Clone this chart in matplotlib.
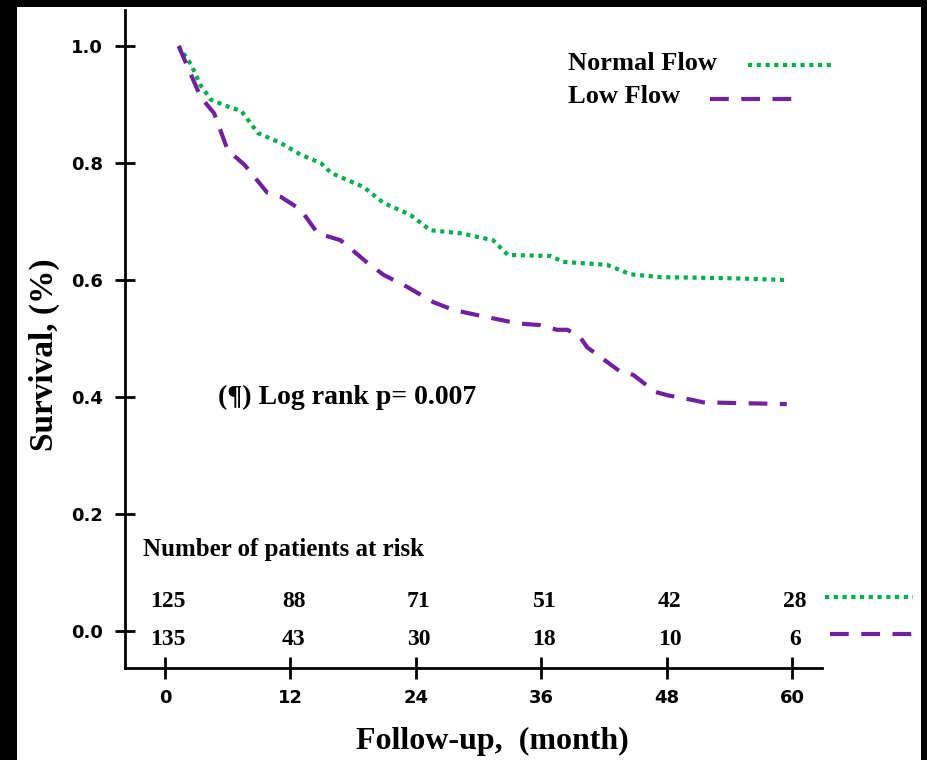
import matplotlib.pyplot as plt
from matplotlib.patches import Rectangle
from matplotlib.lines import Line2D

# survival curves (month, survival)
normal_months = [1.3, 2.5, 3.4, 4.4, 6.1, 7.3, 8.9, 11.1, 13.0, 14.9, 15.9, 19.0,
                 20.9, 23.5, 25.4, 28.3, 31.4, 32.8, 36.9, 38.1, 42.3, 44.5, 47.4,
                 54.4, 59.5]
normal_surv = [1.0, 0.968, 0.933, 0.908, 0.896, 0.889, 0.851, 0.834, 0.814, 0.800,
               0.783, 0.759, 0.732, 0.711, 0.685, 0.680, 0.668, 0.643, 0.641, 0.631,
               0.626, 0.610, 0.605, 0.603, 0.600]

low_months = [1.3, 3.4, 4.7, 5.4, 6.0, 7.6, 9.8, 11.1, 13.0, 14.6, 16.8, 19.4, 20.9,
              23.2, 25.7, 27.6, 29.9, 32.1, 33.7, 35.9, 37.5, 38.5, 39.7, 40.4, 41.7,
              43.6, 44.8, 46.9, 48.1, 50.5, 51.5, 59.5]
low_surv = [1.0, 0.913, 0.885, 0.851, 0.822, 0.797, 0.749, 0.742, 0.720, 0.680, 0.668,
            0.629, 0.609, 0.588, 0.562, 0.549, 0.540, 0.532, 0.526, 0.523, 0.515, 0.515,
            0.503, 0.485, 0.468, 0.443, 0.438, 0.409, 0.403, 0.395, 0.391, 0.388]

risk_months = [0, 12, 24, 36, 48, 60]
risk_normal = [125, 88, 71, 51, 42, 28]
risk_low = [135, 43, 30, 18, 10, 6]

GREEN = '#00b050'
PURPLE = '#7020a0'
serif = 'Liberation Serif'
green_style = dict(color=GREEN, lw=3, linestyle=(0, (1, 1.1)), dash_capstyle='butt')
purple_style = dict(color=PURPLE, lw=3, linestyle=(0, (4.5, 3)), dash_capstyle='butt')

fig = plt.figure(figsize=(9.27, 7.6), dpi=100)
fig.patch.set_facecolor('black')
fig.add_artist(Rectangle((17 / 927, 0), 904 / 927, 753 / 760, transform=fig.transFigure,
                         facecolor='white', edgecolor='none', zorder=0))

ax = fig.add_axes([125 / 927, 92 / 760, 697 / 927, 658 / 760])
ax.patch.set_alpha(0)

ax.plot(normal_months, normal_surv, **green_style)
ax.plot(low_months, low_surv, **purple_style)

ax.set_xlim(-3.83, 62.87)
ax.set_ylim(-0.063, 1.0615)
for s in ['top', 'right']:
    ax.spines[s].set_visible(False)
for s in ['left', 'bottom']:
    ax.spines[s].set_linewidth(2)

ax.set_xticks(risk_months)
ax.set_yticks([0.0, 0.2, 0.4, 0.6, 0.8, 1.0])
ax.set_yticklabels(['0.0', '0.2', '0.4', '0.6', '0.8', '1.0'])
ax.tick_params(axis='x', direction='inout', length=16, width=2, pad=7)
ax.tick_params(axis='y', direction='inout', length=14, width=2, pad=9)
for lab in ax.get_xticklabels():
    lab.set_fontweight('bold')
    lab.set_fontsize(13)
for lab in ax.get_yticklabels():
    lab.set_fontweight('bold')
    lab.set_fontsize(13)

ax.set_xlabel('Follow-up,  (month)', fontfamily=serif, fontweight='bold', fontsize=23,
              va='center')
ax.xaxis.set_label_coords(0.5265, -0.111)
ax.set_ylabel('Survival, (%)', fontfamily=serif, fontweight='bold', fontsize=24,
              va='center')
ax.yaxis.set_label_coords(-0.116, 0.476)

# legend, drawn by hand to keep the text-then-line layout
ax.text(0.636, 0.919, 'Normal Flow', transform=ax.transAxes, fontfamily=serif,
        fontweight='bold', fontsize=19, va='center', ha='left')
ax.text(0.636, 0.869, 'Low Flow', transform=ax.transAxes, fontfamily=serif,
        fontweight='bold', fontsize=19, va='center', ha='left')
ax.add_line(Line2D([0.894, 1.016], [0.916, 0.916], transform=ax.transAxes,
                   clip_on=False, **green_style))
ax.add_line(Line2D([0.839, 0.958], [0.865, 0.865], transform=ax.transAxes,
                   clip_on=False, **purple_style))

ax.text(5.1, 0.4, '(¶) Log rank p= 0.007', fontfamily=serif, fontweight='bold',
        fontsize=20, va='center', ha='left')

# number at risk table
ax.text(-2.1, 0.14, 'Number of patients at risk', fontfamily=serif, fontweight='bold',
        fontsize=18, va='center', ha='left')
for m, n1, n2 in zip(risk_months, risk_normal, risk_low):
    ax.text(m + 0.3, 0.05, str(n1), fontfamily=serif, fontweight='bold', fontsize=17,
            va='center', ha='center')
    ax.text(m + 0.3, -0.014, str(n2), fontfamily=serif, fontweight='bold', fontsize=17,
            va='center', ha='center')
ax.add_line(Line2D([1.004, 1.131], [0.108, 0.108], transform=ax.transAxes,
                   clip_on=False, **green_style))
ax.add_line(Line2D([1.011, 1.133], [0.052, 0.052], transform=ax.transAxes,
                   clip_on=False, **purple_style))

fig.savefig('out.png', dpi=100, facecolor=fig.get_facecolor())
